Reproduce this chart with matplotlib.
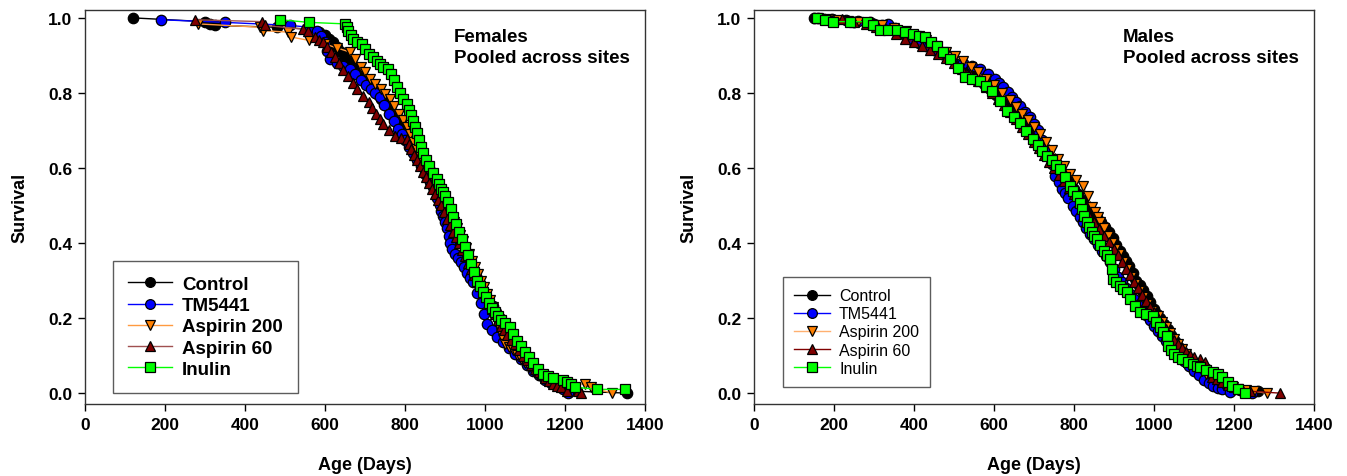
import matplotlib
matplotlib.use("Agg")
import matplotlib.pyplot as plt
from matplotlib.ticker import FormatStrFormatter

plt.rcParams['font.family'] = ['Liberation Sans', 'DejaVu Sans']

series_names = ["Control", "TM5441", "Aspirin 200", "Aspirin 60", "Inulin"]

# ---------------- Females: (age in days, survival) ----------------
f_control = [(120, 1.0), (300, 0.99), (312, 0.985), (325, 0.98), (480, 0.975), (560, 0.97), (585, 0.962),
             (600, 0.955), (610, 0.945), (620, 0.935), (630, 0.922), (640, 0.91), (650, 0.897), (660, 0.885),
             (670, 0.872), (680, 0.86), (690, 0.847), (700, 0.835), (710, 0.822), (720, 0.81), (730, 0.797),
             (740, 0.785), (750, 0.772), (760, 0.76), (770, 0.747), (780, 0.735), (790, 0.722), (800, 0.71),
             (808, 0.697), (815, 0.685), (823, 0.672), (830, 0.66), (838, 0.645), (845, 0.63), (853, 0.615),
             (860, 0.60), (865, 0.587), (870, 0.575), (875, 0.562), (880, 0.55), (885, 0.537), (890, 0.525),
             (895, 0.512), (900, 0.50), (910, 0.475), (920, 0.45), (930, 0.425), (940, 0.40), (950, 0.375),
             (960, 0.35), (970, 0.325), (978, 0.312), (985, 0.30), (995, 0.275), (1005, 0.25), (1020, 0.232),
             (1028, 0.215), (1037, 0.20), (1050, 0.175), (1065, 0.15), (1080, 0.125), (1090, 0.112),
             (1100, 0.10), (1110, 0.087), (1120, 0.075), (1130, 0.062), (1140, 0.05), (1152, 0.04),
             (1165, 0.03), (1178, 0.022), (1190, 0.015), (1210, 0.01), (1230, 0.005), (1355, 0.0)]

f_tm5441 = [(190, 0.995), (350, 0.988), (513, 0.98), (560, 0.975), (580, 0.965), (590, 0.952), (600, 0.935),
            (606, 0.912), (612, 0.89), (630, 0.88), (645, 0.872), (662, 0.864), (676, 0.85), (690, 0.835),
            (703, 0.822), (715, 0.81), (726, 0.80), (737, 0.79), (748, 0.768), (760, 0.745), (772, 0.725),
            (783, 0.704), (792, 0.69), (800, 0.675), (810, 0.657), (820, 0.64), (830, 0.622), (840, 0.605),
            (851, 0.584), (862, 0.563), (869, 0.55), (875, 0.54), (881, 0.52), (887, 0.50), (891, 0.486),
            (895, 0.472), (900, 0.456), (905, 0.44), (909, 0.42), (912, 0.40), (918, 0.385), (925, 0.37),
            (932, 0.36), (940, 0.35), (948, 0.335), (955, 0.32), (962, 0.308), (970, 0.296), (980, 0.268),
            (990, 0.24), (998, 0.212), (1005, 0.185), (1018, 0.168), (1030, 0.15), (1045, 0.135), (1060, 0.12),
            (1075, 0.105), (1090, 0.09), (1105, 0.075), (1120, 0.06), (1135, 0.047), (1150, 0.035),
            (1165, 0.027), (1180, 0.02), (1195, 0.01), (1207, 0.0)]

f_aspirin200 = [(283, 0.984), (438, 0.975), (446, 0.966), (508, 0.962), (515, 0.949), (560, 0.94), (600, 0.93),
                (630, 0.92), (662, 0.909), (676, 0.89), (690, 0.87), (700, 0.855), (712, 0.837), (726, 0.823),
                (740, 0.81), (751, 0.797), (762, 0.784), (773, 0.765), (785, 0.745), (795, 0.727), (804, 0.709),
                (812, 0.69), (820, 0.67), (828, 0.651), (837, 0.632), (846, 0.616), (855, 0.60), (862, 0.585),
                (870, 0.57), (877, 0.555), (885, 0.54), (892, 0.525), (900, 0.51), (907, 0.492), (915, 0.475),
                (922, 0.457), (930, 0.44), (937, 0.422), (945, 0.405), (952, 0.387), (960, 0.37), (967, 0.352),
                (975, 0.335), (982, 0.317), (990, 0.30), (997, 0.282), (1005, 0.265), (1012, 0.247),
                (1020, 0.23), (1025, 0.21), (1030, 0.19), (1035, 0.175), (1040, 0.16), (1045, 0.145),
                (1050, 0.13), (1060, 0.122), (1070, 0.115), (1080, 0.102), (1090, 0.09), (1100, 0.08),
                (1110, 0.07), (1120, 0.06), (1130, 0.05), (1140, 0.042), (1150, 0.035), (1170, 0.03),
                (1200, 0.025), (1250, 0.024), (1265, 0.015), (1318, 0.0)]

f_aspirin60 = [(275, 0.995), (443, 0.99), (450, 0.98), (546, 0.97), (558, 0.966), (575, 0.95), (586, 0.942),
               (596, 0.935), (605, 0.922), (615, 0.91), (625, 0.895), (635, 0.88), (646, 0.862), (658, 0.845),
               (669, 0.827), (680, 0.81), (694, 0.792), (709, 0.775), (718, 0.76), (728, 0.745), (737, 0.731),
               (746, 0.717), (761, 0.70), (776, 0.685), (790, 0.68), (804, 0.677), (810, 0.663), (815, 0.65),
               (822, 0.635), (830, 0.62), (837, 0.605), (845, 0.59), (852, 0.575), (860, 0.56), (867, 0.545),
               (875, 0.53), (882, 0.515), (890, 0.50), (897, 0.482), (905, 0.465), (912, 0.447), (920, 0.43),
               (927, 0.415), (935, 0.40), (942, 0.382), (950, 0.365), (957, 0.347), (965, 0.33), (972, 0.315),
               (980, 0.30), (987, 0.285), (995, 0.27), (1002, 0.255), (1010, 0.24), (1017, 0.225),
               (1025, 0.21), (1032, 0.195), (1040, 0.18), (1047, 0.167), (1055, 0.155), (1065, 0.142),
               (1075, 0.13), (1085, 0.115), (1095, 0.10), (1105, 0.087), (1115, 0.075), (1125, 0.065),
               (1135, 0.055), (1142, 0.047), (1150, 0.04), (1160, 0.032), (1170, 0.025), (1180, 0.02),
               (1190, 0.015), (1205, 0.005), (1233, 0.005), (1240, 0.0)]

f_inulin = [(488, 0.995), (560, 0.988), (650, 0.984), (654, 0.975), (658, 0.965), (664, 0.955), (670, 0.944),
            (680, 0.935), (692, 0.93), (701, 0.917), (710, 0.905), (720, 0.895), (730, 0.885), (737, 0.877),
            (745, 0.87), (758, 0.864), (765, 0.85), (772, 0.835), (780, 0.817), (788, 0.80), (796, 0.785),
            (804, 0.77), (810, 0.755), (815, 0.74), (820, 0.725), (826, 0.71), (831, 0.692), (836, 0.675),
            (841, 0.657), (846, 0.64), (853, 0.622), (860, 0.605), (870, 0.587), (879, 0.57), (885, 0.557),
            (890, 0.545), (895, 0.535), (900, 0.525), (908, 0.51), (914, 0.49), (920, 0.47), (927, 0.45),
            (935, 0.43), (942, 0.41), (950, 0.39), (957, 0.367), (965, 0.345), (972, 0.322), (980, 0.30),
            (987, 0.285), (995, 0.27), (1002, 0.255), (1010, 0.24), (1017, 0.227), (1025, 0.215),
            (1032, 0.205), (1040, 0.195), (1050, 0.186), (1062, 0.176), (1071, 0.158), (1080, 0.14),
            (1090, 0.125), (1100, 0.11), (1110, 0.095), (1120, 0.08), (1132, 0.065), (1145, 0.05),
            (1157, 0.045), (1170, 0.04), (1195, 0.035), (1205, 0.03), (1215, 0.023), (1225, 0.016),
            (1280, 0.01), (1350, 0.01)]

# ---------------- Males: (age in days, survival) ----------------
m_control = [(150, 1.0), (175, 0.998), (200, 0.995), (250, 0.99), (300, 0.985), (320, 0.98), (340, 0.975),
             (360, 0.968), (380, 0.96), (400, 0.95), (420, 0.94), (440, 0.928), (460, 0.915), (480, 0.903),
             (500, 0.89), (515, 0.878), (530, 0.865), (545, 0.853), (560, 0.84), (575, 0.825), (590, 0.81),
             (605, 0.795), (620, 0.78), (635, 0.763), (650, 0.745), (665, 0.728), (680, 0.71), (693, 0.695),
             (705, 0.68), (718, 0.663), (730, 0.645), (743, 0.628), (755, 0.61), (768, 0.593), (780, 0.575),
             (790, 0.56), (800, 0.545), (810, 0.53), (820, 0.515), (830, 0.50), (845, 0.485), (857, 0.47),
             (868, 0.455), (878, 0.443), (888, 0.43), (897, 0.413), (906, 0.395), (914, 0.38), (922, 0.365),
             (930, 0.352), (938, 0.34), (947, 0.32), (956, 0.30), (965, 0.288), (973, 0.275), (982, 0.26),
             (991, 0.243), (1000, 0.225), (1008, 0.212), (1016, 0.20), (1025, 0.185), (1034, 0.17),
             (1043, 0.155), (1052, 0.14), (1060, 0.125), (1070, 0.11), (1080, 0.098), (1090, 0.085),
             (1100, 0.075), (1110, 0.065), (1120, 0.055), (1130, 0.045), (1140, 0.037), (1150, 0.03),
             (1162, 0.025), (1175, 0.02), (1188, 0.015), (1200, 0.01), (1215, 0.007), (1230, 0.005),
             (1260, 0.005)]

m_tm5441 = [(160, 1.0), (195, 0.998), (230, 0.995), (260, 0.992), (290, 0.99), (335, 0.984), (352, 0.972),
            (370, 0.96), (382, 0.95), (395, 0.94), (412, 0.932), (430, 0.925), (450, 0.915), (470, 0.905),
            (496, 0.892), (523, 0.88), (544, 0.872), (565, 0.864), (584, 0.85), (603, 0.837), (613, 0.826),
            (623, 0.816), (634, 0.803), (645, 0.79), (655, 0.777), (665, 0.765), (677, 0.75), (690, 0.736),
            (700, 0.718), (710, 0.70), (720, 0.675), (730, 0.65), (738, 0.63), (745, 0.61), (753, 0.579),
            (762, 0.562), (770, 0.545), (778, 0.532), (785, 0.52), (798, 0.499), (806, 0.485), (815, 0.47),
            (822, 0.455), (830, 0.44), (840, 0.425), (850, 0.41), (860, 0.395), (870, 0.38), (880, 0.365),
            (890, 0.35), (900, 0.33), (910, 0.31), (920, 0.295), (930, 0.28), (940, 0.265), (950, 0.25),
            (960, 0.235), (970, 0.22), (980, 0.207), (990, 0.195), (1000, 0.18), (1010, 0.165),
            (1020, 0.152), (1030, 0.14), (1040, 0.127), (1050, 0.115), (1062, 0.10), (1075, 0.085),
            (1088, 0.072), (1100, 0.06), (1112, 0.047), (1125, 0.035), (1137, 0.027), (1148, 0.019),
            (1160, 0.014), (1170, 0.01), (1190, 0.003), (1245, 0.0)]

m_aspirin200 = [(160, 1.0), (185, 0.998), (210, 0.995), (235, 0.992), (260, 0.99), (290, 0.985), (320, 0.98),
                (350, 0.972), (380, 0.965), (405, 0.952), (430, 0.94), (455, 0.925), (480, 0.91), (502, 0.898),
                (523, 0.886), (542, 0.87), (560, 0.855), (580, 0.837), (600, 0.82), (620, 0.80), (640, 0.78),
                (655, 0.762), (670, 0.745), (685, 0.727), (700, 0.71), (715, 0.69), (730, 0.67), (745, 0.647),
                (760, 0.625), (775, 0.605), (790, 0.585), (806, 0.568), (823, 0.552), (834, 0.524),
                (845, 0.496), (852, 0.483), (860, 0.47), (866, 0.455), (874, 0.44), (884, 0.42), (894, 0.40),
                (903, 0.385), (912, 0.37), (922, 0.35), (932, 0.33), (942, 0.31), (952, 0.29), (962, 0.272),
                (972, 0.255), (983, 0.237), (994, 0.22), (1010, 0.205), (1020, 0.19), (1030, 0.175),
                (1040, 0.16), (1050, 0.145), (1060, 0.13), (1070, 0.117), (1080, 0.105), (1090, 0.092),
                (1100, 0.08), (1110, 0.07), (1120, 0.06), (1130, 0.052), (1140, 0.045), (1150, 0.037),
                (1160, 0.03), (1172, 0.025), (1185, 0.02), (1197, 0.015), (1210, 0.01), (1230, 0.007),
                (1250, 0.005), (1282, 0.0)]

m_aspirin60 = [(160, 1.0), (190, 0.998), (220, 0.997), (250, 0.99), (280, 0.985), (305, 0.977), (330, 0.97),
               (355, 0.957), (378, 0.944), (400, 0.935), (420, 0.925), (440, 0.915), (460, 0.905), (480, 0.892),
               (500, 0.88), (520, 0.865), (540, 0.85), (560, 0.832), (580, 0.815), (595, 0.80), (610, 0.785),
               (625, 0.767), (640, 0.75), (655, 0.73), (670, 0.71), (685, 0.69), (700, 0.67), (712, 0.652),
               (725, 0.635), (737, 0.617), (750, 0.60), (762, 0.582), (775, 0.565), (787, 0.547), (800, 0.53),
               (812, 0.51), (825, 0.49), (837, 0.472), (850, 0.455), (862, 0.437), (875, 0.42), (887, 0.402),
               (900, 0.385), (910, 0.367), (920, 0.35), (930, 0.332), (940, 0.315), (950, 0.297), (960, 0.28),
               (970, 0.262), (980, 0.245), (990, 0.23), (1000, 0.215), (1010, 0.20), (1020, 0.185),
               (1030, 0.17), (1040, 0.155), (1050, 0.142), (1060, 0.13), (1070, 0.12), (1080, 0.11),
               (1090, 0.102), (1100, 0.095), (1115, 0.09), (1128, 0.083), (1137, 0.063), (1145, 0.043),
               (1157, 0.037), (1170, 0.03), (1185, 0.022), (1200, 0.015), (1220, 0.01), (1240, 0.005),
               (1315, 0.0)]

m_inulin = [(157, 1.0), (178, 0.995), (198, 0.99), (240, 0.99), (282, 0.99), (298, 0.98), (315, 0.968),
            (336, 0.968), (357, 0.968), (378, 0.962), (398, 0.957), (413, 0.953), (428, 0.949), (442, 0.937),
            (457, 0.925), (473, 0.908), (490, 0.89), (509, 0.866), (528, 0.843), (546, 0.838), (565, 0.832),
            (580, 0.818), (595, 0.805), (614, 0.778), (633, 0.752), (649, 0.736), (665, 0.72), (681, 0.698),
            (698, 0.677), (709, 0.661), (720, 0.645), (732, 0.632), (745, 0.62), (755, 0.608), (765, 0.597),
            (777, 0.575), (790, 0.552), (798, 0.538), (807, 0.525), (814, 0.507), (820, 0.49), (826, 0.473),
            (832, 0.456), (838, 0.443), (845, 0.43), (851, 0.42), (857, 0.41), (866, 0.395), (875, 0.38),
            (882, 0.368), (890, 0.357), (894, 0.33), (898, 0.304), (906, 0.295), (915, 0.285), (923, 0.277),
            (932, 0.27), (940, 0.25), (952, 0.233), (965, 0.216), (980, 0.21), (998, 0.205), (1006, 0.19),
            (1015, 0.175), (1023, 0.163), (1032, 0.152), (1035, 0.125), (1042, 0.115), (1050, 0.105),
            (1060, 0.097), (1070, 0.09), (1084, 0.083), (1098, 0.077), (1107, 0.073), (1115, 0.069),
            (1130, 0.062), (1148, 0.056), (1160, 0.05), (1170, 0.043), (1185, 0.03), (1195, 0.019),
            (1210, 0.01), (1228, 0.0)]

x_ticks = [0, 200, 400, 600, 800, 1000, 1200, 1400]
y_ticks = [0.0, 0.2, 0.4, 0.6, 0.8, 1.0]

female_data = [f_control, f_tm5441, f_aspirin200, f_aspirin60, f_inulin]
male_data = [m_control, m_tm5441, m_aspirin200, m_aspirin60, m_inulin]

markers = ['o', 'o', 'v', '^', 's']
face_colors = ['#000000', '#0000ff', '#ff8000', '#800000', '#00ff00']
line_colors_f = ['#000000', '#0000ff', '#ff9a40', '#a05050', '#00ff00']
line_colors_m = ['#000000', '#0000ff', '#ffb070', '#800000', '#00ff00']
marker_sizes = [7.5, 7.5, 7.5, 7.5, 6.8]

fig = plt.figure(figsize=(13.47, 4.77), dpi=100)
ax_f = fig.add_axes([85 / 1347, 1 - 405 / 477, 560 / 1347, 394 / 477])
ax_m = fig.add_axes([754 / 1347, 1 - 405 / 477, 560 / 1347, 394 / 477])


def draw(ax, data, line_colors, title, legend_bold, leg_anchor, leg_fs, leg_spacing, handle_len,
         bpad, htpad):
    for pts, name, mk, fc, lc, ms in zip(data, series_names, markers, face_colors, line_colors,
                                         marker_sizes):
        age = [p[0] for p in pts]
        surv = [p[1] for p in pts]
        ax.plot(age, surv, color=lc, lw=1.0, marker=mk, markersize=ms, markerfacecolor=fc,
                markeredgecolor='black', markeredgewidth=0.9, label=name)
    ax.set_xlim(0, 1400)
    ax.set_ylim(-0.029, 1.021)
    ax.set_xticks(x_ticks)
    ax.set_yticks(y_ticks)
    ax.yaxis.set_major_formatter(FormatStrFormatter('%.1f'))
    ax.tick_params(direction='out', length=5, width=1, labelsize=12.5, pad=4)
    for lab in ax.get_xticklabels() + ax.get_yticklabels():
        lab.set_fontweight('bold')
    for sp in ax.spines.values():
        sp.set_linewidth(1.0)
        sp.set_color('#333333')
    ax.set_xlabel('Age (Days)', fontsize=13, fontweight='bold', labelpad=18)
    ax.set_ylabel('Survival', fontsize=13, fontweight='bold', labelpad=14)
    ax.text(0.659, 0.955, title, transform=ax.transAxes, fontsize=13.5, fontweight='bold',
            va='top', ha='left', linespacing=1.3)
    leg = ax.legend(loc='lower left', bbox_to_anchor=leg_anchor, frameon=True, fancybox=False,
                    edgecolor='#333333', handlelength=handle_len, labelspacing=leg_spacing,
                    prop={'size': leg_fs, 'weight': 'bold' if legend_bold else 'normal'},
                    borderpad=bpad, handletextpad=htpad, borderaxespad=0.0)
    leg.get_frame().set_linewidth(1.0)
    for h in leg.legend_handles:
        h.set_markersize(7)


draw(ax_f, female_data, line_colors_f, 'Females\nPooled across sites', True, (0.05, 0.028), 13.5, 0.22,
     2.35, 0.8, 0.53)
draw(ax_m, male_data, line_colors_m, 'Males\nPooled across sites', False, (0.052, 0.043), 11.5, 0.2,
     2.25, 0.7, 0.55)

fig.savefig('out.png', dpi=100)
